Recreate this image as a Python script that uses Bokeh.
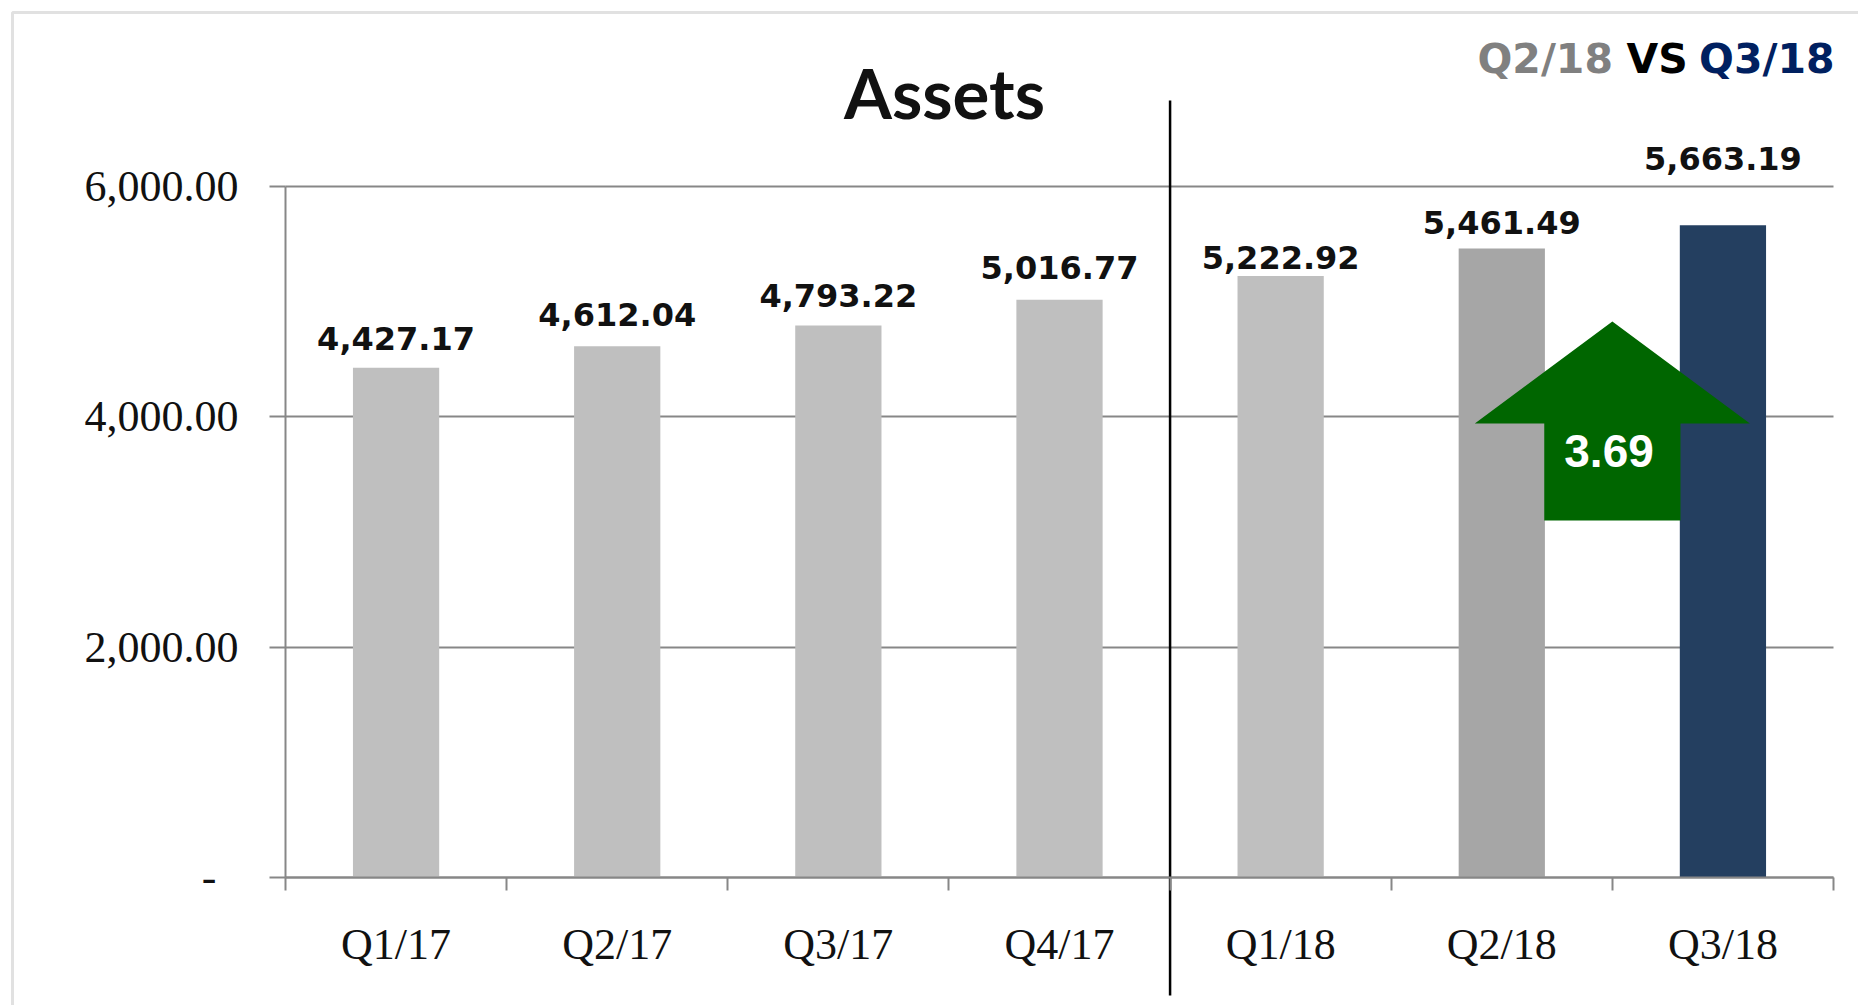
from bokeh.plotting import figure
from bokeh.models import Range1d, FixedTicker, Label, BoxAnnotation, ColumnDataSource
from bokeh.core.properties import value
from bokeh.embed import file_html
from bokeh.resources import INLINE

# ---------------- data ----------------
quarters = ["Q1/17", "Q2/17", "Q3/17", "Q4/17", "Q1/18", "Q2/18", "Q3/18"]
assets = [4427.17, 4612.04, 4793.22, 5016.77, 5222.92, 5461.49, 5663.19]
y_ticks = [0, 2000, 4000, 6000]
y_tick_labels = ["-\u00a0\u00a0", "2,000.00", "4,000.00", "6,000.00"]
title_text = "Assets"
compare_prev = "Q2/18"
compare_word = "VS"
compare_curr = "Q3/18"
n_2017 = 4  # number of 2017 quarters (separator goes after them)

# ---------------- styles ----------------
bar_colors = ["#BFBFBF"] * 5 + ["#A6A6A6", "#243F60"]
label_offsets = [18, 21, 19, 21, 8, 15, 56]   # px above the bar top (baseline)
AXIS_GREY = "#878787"
BASE_FIX = 0.34   # rendered baseline sits this many em lower than requested

# ---------------- layout (page pixels -> data) ----------------
W, H = 1858, 1005
ORIGIN = 0                   # page offset of the figure
PX0, PX7 = 285.0, 1833.0      # page x of x=0 and x=7
PY0, PY6 = 877.0, 186.0       # page y of y=0 and y=6000
ncat = len(quarters)
ppu = (PX7 - PX0) / ncat
ppv = (PY0 - PY6) / 6000.0


def px_x(px):
    return (px - PX0) / ppu


def px_y(py):
    return (PY0 - py) / ppv


p = figure(width=W, height=H, output_backend="svg", toolbar_location=None,
           x_range=Range1d(px_x(ORIGIN), px_x(ORIGIN + W)),
           y_range=Range1d(px_y(ORIGIN + H), px_y(ORIGIN)),
           min_border=0)
p.outline_line_color = None
p.background_fill_color = "white"
p.border_fill_color = "white"

centers = [i + 0.5 for i in range(ncat)]
boundaries = list(range(ncat + 1))

# outer frame border
p.add_layout(BoxAnnotation(left=px_x(12), top=px_y(12), right=px_x(2400), bottom=px_y(1400),
                           fill_color=None, fill_alpha=0, line_color="#9A9A9A", line_width=3))

# bars
VAL_FS = 32
src = ColumnDataSource(dict(
    x=centers, top=assets, color=bar_colors,
    label=[f"{v:,.2f}" for v in assets],
    off=[-(o + BASE_FIX * VAL_FS) for o in label_offsets],
))
p.vbar(x="x", top="top", width=0.39, bottom=0, fill_color="color", line_color=None, source=src)

# value labels
p.text(x="x", y="top", text="label", y_offset="off", source=src,
       text_align="center", text_baseline="alphabetic",
       text_font=value("DejaVu Sans"), text_font_style="bold",
       text_font_size=f"{VAL_FS}px", text_color="#111111")

# separator line between 2017 and 2018
p.segment(x0=[n_2017], y0=[px_y(995)], x1=[n_2017], y1=[px_y(100)],
          line_color="black", line_width=2.5)

# change arrow between last two quarters
pct = (assets[-1] - assets[-2]) / assets[-2] * 100
ax = ncat - 1
wing, shaft = 0.622, 0.308
y_tip, y_wing, y_base = px_y(321), px_y(423), px_y(520)
p.patch(x=[ax, ax + wing, ax + shaft, ax + shaft, ax - shaft, ax - shaft, ax - wing],
        y=[y_tip, y_wing, y_wing, y_base, y_base, y_wing, y_wing],
        fill_color="#006600", line_color=None)
ARR_FS = 46
p.text(x=[ax - 0.015], y=[px_y(466 - BASE_FIX * ARR_FS)], text=[f"{pct:.2f}"],
       text_align="center", text_baseline="alphabetic",
       text_font=value("Liberation Sans"), text_font_style="bold",
       text_font_size=f"{ARR_FS}px", text_color="white")

# axes
xa = p.xaxis[0]
xa.fixed_location = 0
xa.bounds = (0, ncat)
xa.ticker = FixedTicker(ticks=centers, minor_ticks=boundaries)
xa.major_label_overrides = {c: q for c, q in zip(centers, quarters)}
xa.axis_line_color = AXIS_GREY
xa.axis_line_width = 2
xa.major_tick_out = 0
xa.major_tick_in = 0
xa.major_tick_line_color = None
xa.minor_tick_out = 13
xa.minor_tick_in = 0
xa.minor_tick_line_color = AXIS_GREY
xa.minor_tick_line_width = 2
xa.major_label_standoff = 29
xa.major_label_text_font = "Liberation Serif"
xa.major_label_text_font_size = "44px"
xa.major_label_text_color = "#111111"

ya = p.yaxis[0]
ya.fixed_location = 0
ya.bounds = (0, 6000)
ya.ticker = FixedTicker(ticks=y_ticks, minor_ticks=[])
ya.major_label_overrides = {t: l for t, l in zip(y_ticks, y_tick_labels)}
ya.axis_line_color = AXIS_GREY
ya.axis_line_width = 2
ya.major_tick_out = 16
ya.major_tick_in = 0
ya.major_tick_line_color = AXIS_GREY
ya.major_tick_line_width = 2
ya.minor_tick_out = 0
ya.minor_tick_in = 0
ya.major_label_standoff = 31
ya.major_label_text_font = "Liberation Serif"
ya.major_label_text_font_size = "44px"
ya.major_label_text_color = "#111111"

p.xgrid.visible = False
p.ygrid.grid_line_color = AXIS_GREY
p.ygrid.grid_line_width = 2
p.ygrid.cross_bounds = (0, ncat)

# title and comparison header
TITLE_FS = 69
HEAD_FS = 41
p.add_layout(Label(x=px_x(944), y=px_y(115 - BASE_FIX * TITLE_FS), text=title_text,
                   text_align="center", text_baseline="alphabetic", text_font="Lato",
                   text_font_style="bold", text_font_size=f"{TITLE_FS}px", text_color="#111111"))
for txt, xpos, align, col in [(compare_prev, 1477, "left", "#808080"),
                              (compare_word, 1626, "left", "black"),
                              (compare_curr, 1834, "right", "#002060")]:
    p.add_layout(Label(x=px_x(xpos), y=px_y(72 - BASE_FIX * HEAD_FS), text=txt,
                       text_align=align, text_baseline="alphabetic", text_font="DejaVu Sans",
                       text_font_style="bold", text_font_size=f"{HEAD_FS}px", text_color=col))

open("out.html", "w").write(file_html(p, INLINE))
